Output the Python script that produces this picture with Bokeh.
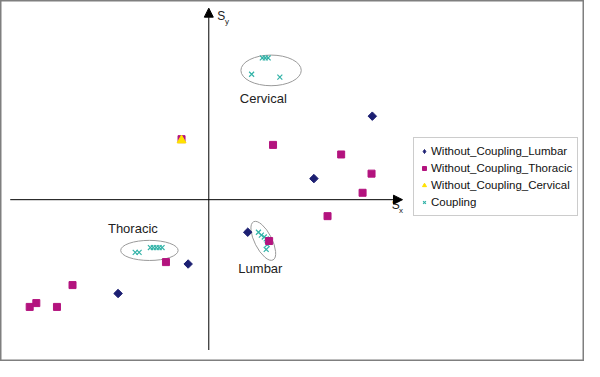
import math
from bokeh.plotting import figure
from bokeh.models import Range1d, Arrow, NormalHead, Legend, LegendItem
from bokeh.core.properties import value
from bokeh.embed import file_html
from bokeh.resources import INLINE

# ---- data (arbitrary Sx/Sy units) ----
lumbar_x = [4.2, 2.7, 1.0, -0.53, -2.33]
lumbar_y = [2.18, 0.55, -0.85, -1.68, -2.45]

thoracic_x = [1.65, 3.4, 4.18, 3.95, 3.05, 1.55, -1.1, -3.5, -4.43, -4.6, -3.9, -0.7]
thoracic_y = [1.43, 1.18, 0.68, 0.18, -0.43, -1.08, -1.63, -2.23, -2.7, -2.8, -2.8, 1.58]

cervical_x = [-0.7]
cervical_y = [1.55]

coupling_x = [1.375, 1.45, 1.525, 1.1, 1.825,
              -1.89, -1.79, -1.5, -1.425, -1.35, -1.275, -1.2,
              1.275, 1.35, 1.425, 1.475, 1.5, 1.475]
coupling_y = [3.7, 3.7, 3.7, 3.275, 3.2,
              -1.375, -1.375, -1.25, -1.25, -1.25, -1.25, -1.25,
              -0.85, -0.925, -0.975, -1.025, -1.175, -1.3]

# group ellipses: center x, center y, width, height, angle (rad)
ell_x = [1.6, -1.525, 1.4]
ell_y = [3.375, -1.325, -1.075]
ell_w = [1.55, 1.475, 1.1]
ell_h = [0.8, 0.525, 0.45]
ell_a = [0.0, 0.0, -1.1]

group_labels = ["Cervical", "Thoracic", "Lumbar"]
group_lx = [1.4, -1.95, 1.325]
group_ly = [2.65, -0.75, -1.8]

# axis extents
x_axis = [-5.1, 4.975]
y_axis = [-3.925, 5.0]

series_names = ["Without_Coupling_Lumbar", "Without_Coupling_Thoracic",
                "Without_Coupling_Cervical", "Coupling"]

NAVY = "#1c1f72"
MAGENTA = "#b3137e"
YELLOW = "#ffe100"
TEAL = "#33b3a8"
FONT = value("Liberation Sans")

p = figure(width=584, height=361, x_range=Range1d(-5.35, 9.65), y_range=Range1d(-4.225, 5.2),
           output_backend="svg", toolbar_location=None, min_border=0,
           x_axis_location=None, y_axis_location=None)
p.grid.visible = False
p.outline_line_color = "#7f7f7f"
p.outline_line_width = 2
p.background_fill_color = "white"

# axes arrows
p.add_layout(Arrow(end=NormalHead(size=9, fill_color="black", line_color="black"),
                   x_start=x_axis[0], y_start=0, x_end=x_axis[1], y_end=0,
                   line_color="black", line_width=1))
p.add_layout(Arrow(end=NormalHead(size=9, fill_color="black", line_color="black"),
                   x_start=0, y_start=y_axis[0], x_end=0, y_end=y_axis[1],
                   line_color="black", line_width=1))

# axis labels S_y and S_x
p.text(x=[0.32, 4.8], y=[4.8, -0.15], text=["S", "S"], text_font=FONT,
       text_font_size="12px", text_color="#222222", text_align="center", text_baseline="middle")
p.text(x=[0.47, 4.94], y=[4.66, -0.29], text=["y", "x"], text_font=FONT,
       text_font_size="8px", text_color="#222222", text_align="center", text_baseline="middle")

# group ellipses
p.ellipse(x=ell_x, y=ell_y, width=ell_w, height=ell_h, angle=ell_a,
          fill_color=None, line_color="#9a9a9a", line_width=1)

p.text(x=group_lx, y=group_ly, text=group_labels, text_font=FONT,
       text_font_size="13px", text_color="#222222", text_align="center", text_baseline="middle")

r_coup = p.scatter(coupling_x, coupling_y, marker="x", size=7, line_color=TEAL, line_width=1.2)
p.scatter(lumbar_x, lumbar_y, marker="square", angle=math.pi / 4, size=6,
          fill_color=NAVY, line_color=NAVY)
# hidden twin used only for the legend swatch (a diamond)
r_lum = p.scatter(lumbar_x, lumbar_y, marker="diamond", size=9,
                  fill_color=NAVY, line_color=NAVY, visible=False)
r_tho = p.scatter(thoracic_x, thoracic_y, marker="square", size=7, fill_color=MAGENTA, line_color=MAGENTA)
r_cer = p.scatter(cervical_x, cervical_y, marker="triangle", size=9, fill_color=YELLOW, line_color=YELLOW)

legend = Legend(items=[LegendItem(label=series_names[0], renderers=[r_lum]),
                       LegendItem(label=series_names[1], renderers=[r_tho]),
                       LegendItem(label=series_names[2], renderers=[r_cer]),
                       LegendItem(label=series_names[3], renderers=[r_coup])],
                location=(413, 145), label_text_font="Liberation Sans", label_text_font_size="11.5px",
                label_text_color="#111111", label_height=16, glyph_height=14, glyph_width=10,
                label_standoff=2, spacing=1, padding=5, margin=0,
                inactive_fill_alpha=0,
                border_line_color="#9a9a9a", border_line_width=1, background_fill_alpha=1)
p.add_layout(legend)

open("out.html", "w").write(file_html(p, INLINE))
